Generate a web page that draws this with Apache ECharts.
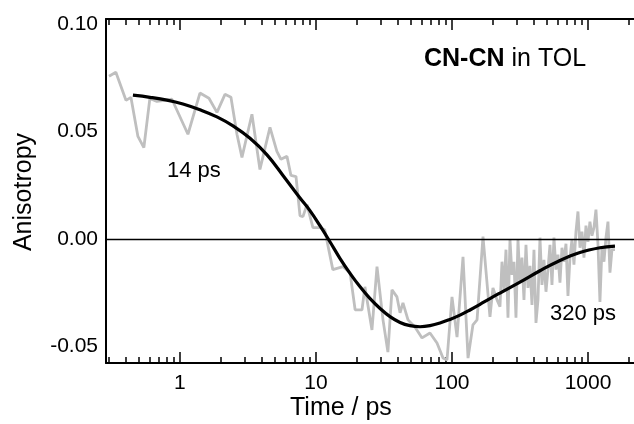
<!DOCTYPE html>
<html>
<head>
<meta charset="utf-8">
<script src="https://cdn.jsdelivr.net/npm/echarts@6/dist/echarts.min.js"></script>
<style>
  html, body { margin: 0; padding: 0; background: #fff; }
  #chart { width: 634px; height: 424px; }
</style>
</head>
<body>
<div id="chart"></div>
<script>
// fitted curve (time in ps, anisotropy)
const fitTime = [0.451, 0.601, 0.802, 1.052, 1.403, 1.871, 2.455, 3.274, 4.366, 5.72, 7.63,
  9.03, 10.7, 12.7, 15.0, 17.8, 21.1, 24.9, 29.6, 35.0, 41.5, 49.1, 58.2, 68.9, 81.6, 96.6,
  114.5, 135.6, 160.7, 190.2, 225.3, 316.1, 443.4, 622, 872.6, 1224, 1578];
const fitValue = [0.0670, 0.0660, 0.0647, 0.0629, 0.0602, 0.0569, 0.0527, 0.0469, 0.0392,
  0.0296, 0.0191, 0.0132, 0.0062, -0.0014, -0.0090, -0.0160, -0.0223, -0.0277, -0.0324,
  -0.0362, -0.0389, -0.0404, -0.0409, -0.0404, -0.0392, -0.0375, -0.0355, -0.0331, -0.0305,
  -0.0278, -0.0252, -0.0201, -0.0148, -0.0100, -0.0063, -0.0041, -0.0033];

// measured data
const dataTime = [0.301, 0.338, 0.401, 0.436, 0.491, 0.543, 0.601, 0.677, 0.873, 1.145,
  1.403, 1.634, 1.871, 2.143, 2.371, 2.625, 2.857, 3.383, 3.873, 4.59, 5.16, 5.53, 6.12,
  6.55, 7.13, 7.63, 8.02, 8.59, 9.50, 10.7, 11.6, 13.3, 15.8, 17.8, 19.4, 21.8, 22.9, 25.8,
  28.1, 31.1, 33.8, 36.2, 39.4, 41.5, 43.6, 47.5, 53.4, 60.2, 68.9, 77.6, 85.9, 91.9, 100,
  108.9, 120.5, 131.2, 142.6, 152.8, 169.0, 190.2, 200, 214.3,
  225.3, 233.1, 241.1, 249.4, 258.0, 266.9, 276.1, 285.6, 295.4, 305.6, 316.1, 327.0,
  338.2, 349.9, 361.9, 374.4, 387.3, 400.6, 414.4, 428.7, 443.4, 458.7, 474.5, 490.8,
  507.7, 525.2, 543.3, 562.0, 581.3, 601.3, 622.0, 643.4, 665.6, 688.5, 712.2, 736.7,
  762.1, 788.3, 815.5, 843.5, 872.6, 902.6, 933.7, 965.8, 999.1, 1033, 1069, 1106, 1144,
  1183, 1224, 1266, 1310, 1355, 1402, 1450, 1500, 1578];
const dataValue = [0.0758, 0.0777, 0.0646, 0.0660, 0.0478, 0.0426, 0.0655, 0.0641, 0.0651,
  0.0488, 0.0680, 0.0656, 0.0590, 0.0674, 0.0660, 0.0488, 0.0380, 0.0581, 0.0324, 0.0520,
  0.0408, 0.0371, 0.0385, 0.0296, 0.0291, 0.0109, 0.0104, 0.0160, 0.0053, 0.0053, 0.0043,
  -0.0143, -0.0129, -0.0157, -0.0330, -0.0330, -0.0223, -0.0424, -0.0129, -0.0377, -0.0527,
  -0.0237, -0.0270, -0.0344, -0.0298, -0.0377, -0.0410, -0.0461, -0.0438, -0.0485, -0.0555,
  -0.0564, -0.0270, -0.0457, -0.0083, -0.0555, -0.0400, -0.0377, 0.0011, -0.0363, -0.0228,
  -0.0284,
  -0.0316, -0.0106, -0.0237, -0.0050, -0.0367, -0.0003, -0.0167, -0.0106, -0.0367, -0.0003,
  -0.0200, -0.0087, -0.0284, -0.0027, -0.0228, -0.0125, -0.0307, -0.0050, -0.0391, -0.0284,
  0.0006, -0.0214, -0.0097, -0.0246, -0.0143, -0.0027, -0.0214, 0.0006, -0.0143, -0.0073,
  -0.0204, -0.0041, -0.0106, -0.0022, -0.0265, -0.0087, -0.0003, -0.0120, 0.0034, 0.0128,
  -0.0041, 0.0034, -0.0087, 0.0062, -0.0013, 0.0081, 0.0015, 0.0053, 0.0137, -0.0022,
  -0.0293, -0.0041, -0.0106, 0.0006, 0.0081, -0.0157, -0.0050, -0.0050];

// axis ticks
const majorTicks = [1, 10, 100, 1000];
const minorTicks = [0.3, 0.4, 0.5, 0.6, 0.7, 0.8, 0.9, 2, 3, 4, 5, 6, 7, 8, 9,
  20, 30, 40, 50, 60, 70, 80, 90, 200, 300, 400, 500, 600, 700, 800, 900, 2000];
const yTicks = [-0.05, 0, 0.05, 0.10];
const xRange = [0.286, 2178];
const yRange = [-0.0578, 0.1025];

const L = Math.log10;
const font = '"Liberation Sans", Arial, Helvetica, sans-serif';

function tickAxis(position, ticks, len, showLine, showLabel) {
    return {
        type: 'value',
        position: position,
        min: L(xRange[0]),
        max: L(xRange[1]),
        splitLine: { show: false },
        axisLine: { show: showLine, onZero: false, lineStyle: { color: '#000', width: 2 } },
        axisTick: {
            show: true,
            inside: true,
            length: len,
            customValues: ticks.map(L),
            lineStyle: { color: '#000', width: 1.5 }
        },
        axisLabel: {
            show: showLabel,
            customValues: majorTicks.map(L),
            formatter: v => String(Math.round(Math.pow(10, v))),
            color: '#000',
            fontSize: 21,
            fontFamily: font,
            margin: 10
        }
    };
}

const myChart = echarts.init(document.getElementById('chart'), null, { renderer: 'canvas' });

myChart.setOption({
    animation: false,
    backgroundColor: '#fff',
    grid: { left: 106, top: 19, right: 0, bottom: 61, containLabel: false },
    xAxis: [
        tickAxis('bottom', majorTicks, 11, true, true),
        tickAxis('bottom', minorTicks, 6, false, false),
        tickAxis('top', majorTicks, 11, true, false),
        tickAxis('top', minorTicks, 6, false, false)
    ],
    yAxis: {
        type: 'value',
        min: yRange[0],
        max: yRange[1],
        splitLine: { show: false },
        axisTick: { show: false },
        axisLine: { show: true, onZero: false, lineStyle: { color: '#000', width: 2 } },
        axisLabel: {
            customValues: yTicks,
            formatter: v => v.toFixed(2),
            color: '#000',
            fontSize: 21,
            fontFamily: font,
            margin: 8
        }
    },
    series: [
        {
            type: 'line',
            data: dataTime.map((t, i) => [L(t), dataValue[i]]),
            showSymbol: false,
            lineStyle: { color: '#bfbfbf', width: 2.8 },
            z: 2,
            markLine: {
                silent: true,
                symbol: 'none',
                label: { show: false },
                lineStyle: { color: '#000', width: 1.3, type: 'solid' },
                data: [{ yAxis: 0 }]
            }
        },
        {
            type: 'line',
            data: fitTime.map((t, i) => [L(t), fitValue[i]]),
            smooth: 0.4,
            showSymbol: false,
            lineStyle: { color: '#000', width: 3.2 },
            z: 3
        }
    ],
    graphic: [
        {
            type: 'text', left: 424, top: 47,
            style: {
                text: '{b|CN-CN} in TOL',
                fontSize: 25, fontFamily: font, fill: '#000',
                rich: { b: { fontSize: 25, fontWeight: 'bold', fontFamily: font } }
            }
        },
        { type: 'text', left: 167, top: 160, style: { text: '14 ps', fontSize: 22, fontFamily: font, fill: '#000' } },
        { type: 'text', left: 550, top: 303, style: { text: '320 ps', fontSize: 22, fontFamily: font, fill: '#000' } },
        { type: 'text', left: 290, top: 396, style: { text: 'Time / ps', fontSize: 25, fontFamily: font, fill: '#000' } },
        {
            type: 'text', x: 24, y: 192, rotation: Math.PI / 2,
            style: { text: 'Anisotropy', fontSize: 25, fontFamily: font, fill: '#000', align: 'center', verticalAlign: 'middle' }
        }
    ]
});
</script>
</body>
</html>
